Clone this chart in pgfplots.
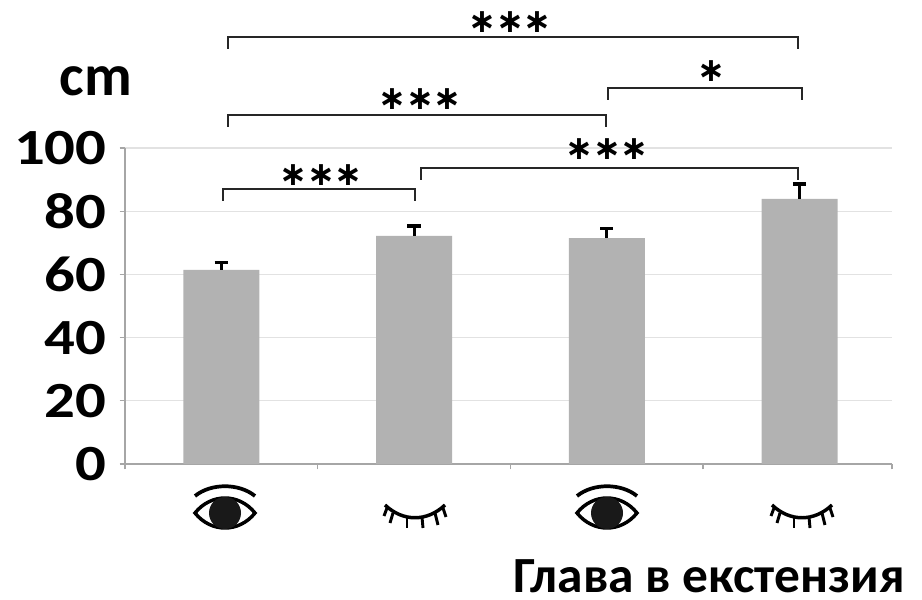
\documentclass[border=0pt]{standalone}
\usepackage{pgfplots}
\pgfplotsset{compat=1.18}
\usepackage{fontspec}
\setmainfont{Carlito}
\newfontfamily\astfont{DejaVu Sans}
\definecolor{barc}{HTML}{B2B2B2}
\definecolor{gridc}{HTML}{E2E2E2}
\definecolor{axc}{HTML}{A6A6A6}
\newcommand{\br}[4]{\draw[line width=1.6pt,black!85] (#1,#4) -- (#1,#3) -- (#2,#3) -- (#2,#4);}
\newcommand{\stars}[3]{\node[inner sep=0pt,anchor=center] at (#1,#2) {\astfont\bfseries\fontsize{25}{25}\selectfont #3};}
\newcommand{\openeye}[2]{\begin{scope}[shift={(#1,#2)}]
\draw[line width=2.8pt,black] (-30,-14) .. controls (-14,-27) and (14,-27) .. (30,-14);
\draw[line width=2.6pt,black] (-30,3) .. controls (-14,-17) and (14,-17) .. (30,3) .. controls (14,23) and (-14,23) .. (-30,3) -- cycle;
\fill[black!90] (0,3) circle (16);
\end{scope}}
\newcommand{\closedeye}[2]{\begin{scope}[shift={(#1,#2)}]
\draw[line width=2.6pt,black] (-30,-7) .. controls (-12,10) and (12,10) .. (30,-7);
\foreach \a/\b/\c/\d in {-28/-4/-31/4,-22/1/-25/11,-8/5/-8/16,7/5/8/16,20/1/23/13,28/-4/31/5}{\draw[line width=2.2pt,black] (\a,\b) -- (\c,\d);}
\end{scope}}
\begin{document}
\begin{tikzpicture}
\path[use as bounding box] (0pt,0pt) rectangle (691.5pt,450pt);
\begin{axis}[
  at={(93.75pt,102pt)},anchor=south west,
  scale only axis,width=575.25pt,height=237pt,
  xmin=-0.5,xmax=3.48,ymin=0,ymax=100,
  axis y line*=left,axis x line*=bottom,
  axis line style={axc,line width=1pt},
  x tick style={axc,line width=1pt},
  xtick={-0.5,0.5,1.5,2.5,3.48},xticklabels={},
  ytick={0,20,40,60,80,100},
  tick align=outside,
  major tick length=4pt,
  ymajorgrids,grid style={gridc,line width=1pt},
  yticklabel style={font=\fontsize{38}{38}\selectfont\bfseries,xscale=1.2,/pgf/number format/assume math mode=true,inner sep=1pt,xshift=-7pt},
  y tick style={axc,line width=1pt},
  ybar,bar width=57pt,
  clip=false,
]
\addplot[fill=barc,draw=none,
  error bars/.cd,y dir=plus,y explicit,
  error bar style={black,line width=2.2pt},
  error mark options={rotate=90,mark size=5pt,line width=2.4pt,black}]
  coordinates {(0,61.4) +- (0,2.3) (1,72.2) +- (0,3.1) (2,71.5) +- (0,3) (3,83.9) +- (0,4.7)};
\end{axis}
\begin{scope}[x=0.75pt,y=-0.75pt,shift={(0pt,450pt)}]
\br{228}{798}{37}{49}
\br{228}{606}{115}{127}
\br{223}{415}{189}{201}
\br{421}{798}{168}{180}
\br{608}{802}{88}{100}
\stars{510}{22}{∗∗∗}
\stars{420}{99}{∗∗∗}
\stars{321}{175}{∗∗∗}
\stars{607}{149}{∗∗∗}
\stars{711}{71}{∗}
\node[inner sep=0pt,font=\fontsize{44}{44}\selectfont\bfseries] at (96,81) {cm};
\node[inner sep=0pt,anchor=east,font=\fontsize{38}{38}\selectfont\bfseries,xscale=1.016] at (905,576) {Глава в екстензия};
\openeye{225}{510}
\closedeye{415}{512}
\openeye{607}{510}
\closedeye{802}{512}
\end{scope}
\end{tikzpicture}
\end{document}
